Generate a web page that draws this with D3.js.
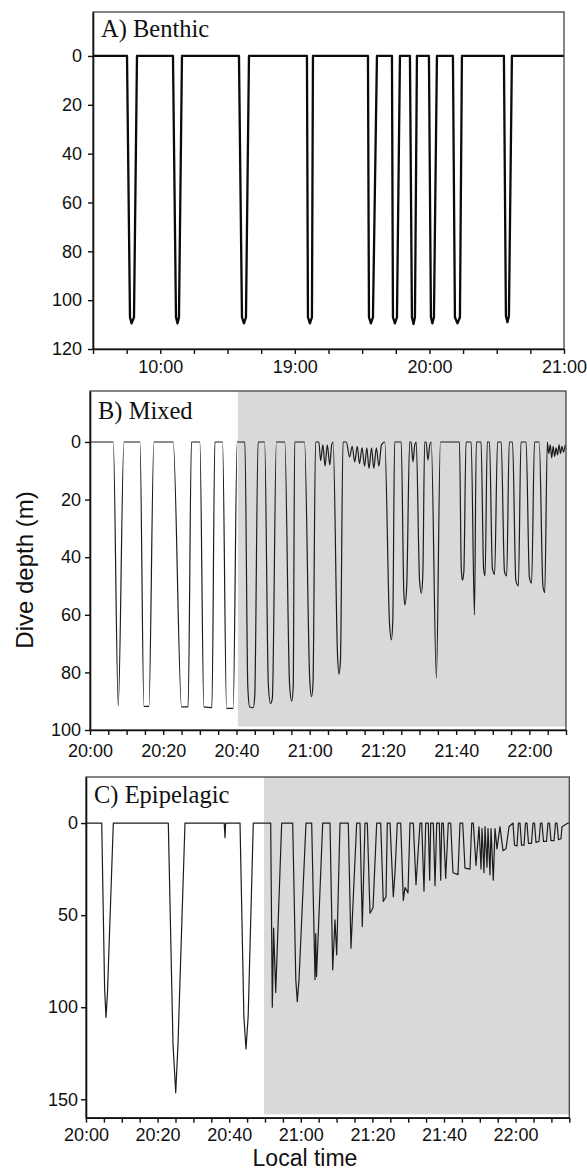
<!DOCTYPE html>
<html>
<head>
<meta charset="utf-8">
<script src="https://cdn.jsdelivr.net/npm/d3@7"></script>
<style>
  body { margin: 0; background: #fff; }
  .tick text { font-family: "Liberation Sans", Arial, sans-serif; font-size: 18px; fill: #111; }
</style>
</head>
<body>
<div id="chart"></div>
<script>
// dive profiles, [minutes from start of axis, depth (m)]
const profileA = [
  [0, 0], [15.16, 0], [16.49, 107], [17.2, 109.5], [18.28, 107], [19.61, 0],
  [35.66, 0], [37.0, 107], [37.7, 109.5], [38.33, 107], [39.67, 0],
  [65.08, 0], [66.42, 107], [67.3, 109.5], [68.2, 107], [69.54, 0],
  [95.39, 0], [95.84, 107], [96.7, 109.5], [97.62, 107], [98.07, 0],
  [122.59, 0], [123.04, 107], [123.9, 109.5], [124.82, 107], [126.6, 0],
  [133.29, 0], [133.74, 107], [134.6, 109.5], [135.52, 107], [136.86, 0],
  [141.31, 0], [142.2, 107], [142.9, 109.8], [143.54, 107], [144.43, 0],
  [149.78, 0], [150.67, 107], [151.3, 109.5], [152.01, 107], [153.35, 0],
  [160.48, 0], [161.37, 107], [162.5, 109.5], [163.6, 107], [164.49, 0],
  [183.21, 0], [184.1, 106.5], [184.8, 109], [185.44, 106.5], [186.78, 0],
  [210, 0]
];

const profileB = [
  [0, 0], [6.35, 0], [7.72, 91.6], [9.27, 0],
  [13.64, 0], [14.73, 91.8], [16.09, 91.8], [17.45, 0],
  [22.72, 0], [25.0, 92], [26.8, 92], [27.7, 0],
  [30.0, 0], [31.1, 92], [33.3, 92.2], [34.1, 0],
  [36.2, 0], [37.3, 92.5], [39.1, 92.5], [40.2, 0],
  [42.3, 0], [43.1, 85], [43.6, 92], [44.6, 92.2], [45.0, 88], [45.9, 0],
  [47.7, 0], [48.7, 84], [49.3, 90.8], [49.8, 89], [50.9, 0],
  [53.2, 0], [54.5, 84], [55.1, 90], [55.5, 85], [55.9, 0],
  [58.6, 0], [60.0, 82], [60.5, 88.4], [60.9, 84], [61.6, 0],
  [62.5, 0], [63.0, 6.5], [63.6, 1], [64.2, 8.4], [64.8, 1], [65.5, 8], [66.0, 1], [66.4, 0],
  [67.6, 74], [68.0, 80.6], [68.4, 76], [69.1, 0],
  [70.0, 0], [70.9, 5.2], [71.6, 1.5], [72.3, 6.9], [73.0, 1.5], [73.6, 7.5], [74.3, 2],
  [75.0, 8.4], [75.6, 2], [76.2, 9.2], [76.9, 2], [77.5, 9.2], [78.2, 2], [78.9, 8.4], [79.6, 1], [80.5, 0],
  [81.8, 63], [82.3, 68.7], [82.7, 62], [83.2, 0],
  [85.0, 0], [85.7, 52], [86.0, 56.6], [86.5, 50], [87.3, 0],
  [87.7, 0], [88.2, 6.9], [88.7, 1], [89.1, 0],
  [90.0, 48], [90.5, 52.5], [90.9, 46], [91.4, 0],
  [91.8, 0], [92.3, 6.3], [92.8, 1], [93.2, 0],
  [94.6, 82], [95.7, 0],
  [100.9, 0], [101.4, 44], [101.7, 48], [102.1, 45], [102.7, 0],
  [104.1, 0], [105.0, 60], [105.5, 0],
  [106.8, 0], [107.5, 44], [107.9, 46.5], [108.5, 0],
  [109.1, 0], [109.9, 44], [110.5, 46], [111.3, 0],
  [112.3, 0], [113.2, 45], [113.8, 46.5], [114.5, 0],
  [115.4, 0], [116.3, 48], [117.0, 50], [117.7, 0],
  [119.1, 0], [120.0, 47], [120.6, 49], [121.4, 0],
  [122.7, 0], [123.7, 50], [124.2, 52.3], [124.9, 0],
  [125.3, 4], [125.7, 1], [126.1, 5.5], [126.5, 1.5], [126.9, 5], [127.3, 2],
  [127.7, 4.5], [128.1, 1], [128.5, 4], [128.9, 1.5], [129.3, 3.5], [129.8, 1]
];

const profileC = [
  [0, 0], [4.39, 0], [5.2, 90], [5.59, 105.6], [6.0, 92], [7.63, 0],
  [22.99, 0], [24.3, 120], [25.06, 146.4], [25.7, 120], [27.65, 0],
  [38.6, 0], [38.83, 8], [39.0, 0],
  [43.02, 0], [44.1, 105], [44.69, 122.7], [45.3, 105], [46.73, 0],
  [51.59, 0], [52.04, 100], [52.4, 57], [52.99, 92], [54.66, 0],
  [57.74, 0], [58.6, 85], [59.02, 97], [59.5, 85], [61.45, 0],
  [63.04, 0], [63.97, 85], [64.16, 60], [64.39, 83.3], [66.12, 0],
  [68.16, 0], [68.91, 79.7], [69.55, 52.5], [70.03, 71.6], [70.95, 0],
  [73.27, 0], [74.02, 68], [75.61, 0],
  [76.54, 0], [77.18, 56.2], [77.93, 0],
  [78.58, 0], [79.33, 49], [80.17, 46], [81.2, 0],
  [82.32, 0], [83.04, 42.6], [83.8, 40], [84.16, 0],
  [84.92, 0], [85.84, 40], [86.31, 27], [86.96, 0],
  [87.91, 0], [88.63, 42], [89.11, 35], [89.94, 38], [90.5, 0],
  [91.42, 0], [92.18, 33.5], [93.3, 0],
  [93.77, 0], [94.41, 37], [94.89, 0],
  [95.61, 0], [96.0, 31], [96.28, 0],
  [97.01, 0], [97.49, 34], [97.96, 0],
  [98.69, 0], [99.08, 31], [99.36, 0],
  [99.8, 0], [100.47, 30], [101.2, 0],
  [101.87, 0], [102.51, 27], [103.91, 28], [104.47, 0],
  [105.22, 0], [105.87, 24.5], [107.26, 25], [107.74, 0],
  [108.18, 0], [108.94, 23], [109.78, 2],
  [110.34, 25], [110.61, 3], [111.17, 27], [111.45, 2], [112.01, 24], [112.29, 3],
  [112.85, 28], [113.13, 3], [113.77, 31], [114.25, 3],
  [114.8, 14], [115.64, 2], [116.48, 15], [117.32, 14], [118.16, 2],
  [119.27, 0], [119.69, 12], [120.39, 12.5], [120.81, 0],
  [121.23, 0], [121.65, 12], [122.35, 12], [122.77, 0],
  [123.18, 0], [123.6, 11], [124.44, 11], [124.86, 0],
  [125.28, 0], [125.7, 10.5], [126.54, 10], [126.96, 0],
  [127.37, 0], [127.79, 10], [128.63, 10], [129.05, 0],
  [129.47, 0], [129.89, 9.5], [130.73, 9.5], [131.15, 0],
  [131.56, 0], [131.98, 9], [132.68, 8.5], [132.96, 2], [134.64, 0], [135, 0]
];

const titles = ["A) Benthic", "B) Mixed", "C) Epipelagic"];

// x ticks (minutes) and their labels; unlabeled ticks are minor
const xTicksA = [30, 90, 150, 210];
const xLabelsA = ["10:00", "19:00", "20:00", "21:00"];
const xTicksBC = [0, 20, 40, 60, 80, 100, 120];
const xLabelsBC = ["20:00", "20:20", "20:40", "21:00", "21:20", "21:40", "22:00"];

const yTicksA = [0, 20, 40, 60, 80, 100, 120];
const yTicksB = [0, 20, 40, 60, 80, 100];
const yTicksC = [0, 50, 100, 150];

// shaded (night) period, minutes
const shadeB = [40.4, 130];
const shadeC = [49.7, 135];

const svg = d3.select("#chart")
    .append("svg")
    .attr("width", 587)
    .attr("height", 1171);

const panels = [
  {title: titles[0], data: profileA, xDomain: [0, 210], yDomain: [-18, 120],
   xr: [93, 564], yr: [12, 349], step: 15, xTicks: xTicksA, xLabels: xLabelsA,
   yTicks: yTicksA, shade: null, lw: 2.3, titleY: 36.5, yPad: 6, xPad: 6,
   curve: d3.curveLinear},
  {title: titles[1], data: profileB, xDomain: [0, 130], yDomain: [-17.7, 100],
   xr: [90, 566], yr: [391, 730], step: 5, xTicks: xTicksBC, xLabels: xLabelsBC,
   yTicks: yTicksB, shade: shadeB, shadeDepth: 98.8, lw: 1.2, titleY: 419, yPad: 4, xPad: 9,
   curve: d3.curveMonotoneX},
  {title: titles[2], data: profileC, xDomain: [0, 135], yDomain: [-25, 160],
   xr: [86, 569.3], yr: [777, 1117.7], step: 5, xTicks: xTicksBC, xLabels: xLabelsBC,
   yTicks: yTicksC, shade: shadeC, shadeDepth: 158.2, lw: 1.2, titleY: 803, yPad: 3, xPad: 6,
   curve: d3.curveLinear}
];

panels.forEach((p, i) => {
  const x = d3.scaleLinear().domain(p.xDomain).range(p.xr);
  const y = d3.scaleLinear().domain(p.yDomain).range(p.yr);
  const g = svg.append("g");

  // night shading
  if (p.shade) {
    g.append("rect")
      .attr("x", x(p.shade[0]))
      .attr("y", y(p.yDomain[0]))
      .attr("width", x(p.shade[1]) - x(p.shade[0]))
      .attr("height", y(p.shadeDepth) - y(p.yDomain[0]))
      .attr("fill", "#d9d9d9");
  }

  g.append("clipPath").attr("id", "clip" + i)
    .append("rect")
      .attr("x", p.xr[0]).attr("y", p.yr[0])
      .attr("width", p.xr[1] - p.xr[0]).attr("height", p.yr[1] - p.yr[0]);

  g.append("path")
    .datum(p.data)
    .attr("clip-path", `url(#clip${i})`)
    .attr("fill", "none")
    .attr("stroke", i === 0 ? "#0a0a0a" : "#1c1c1c")
    .attr("stroke-width", p.lw)
    .attr("stroke-linejoin", "round")
    .attr("d", d3.line()
        .curve(p.curve)
        .x(d => x(d[0]))
        .y(d => y(d[1]))
    );

  // frame
  g.append("rect")
    .attr("x", p.xr[0]).attr("y", p.yr[0])
    .attr("width", p.xr[1] - p.xr[0]).attr("height", p.yr[1] - p.yr[0])
    .attr("fill", "none")
    .attr("stroke", "#444")
    .attr("stroke-width", 1.3);

  // axes
  const labelOf = {};
  p.xTicks.forEach((t, k) => labelOf[t] = p.xLabels[k]);
  const xAxis = g.append("g")
    .attr("transform", `translate(0, ${p.yr[1]})`)
    .call(d3.axisBottom(x)
      .tickValues(d3.range(p.xDomain[0], p.xDomain[1] + 0.01, p.step))
      .tickFormat(d => labelOf[d] || "")
      .tickSize(5).tickSizeOuter(0).tickPadding(p.xPad));

  const yAxis = g.append("g")
    .attr("transform", `translate(${p.xr[0]}, 0)`)
    .call(d3.axisLeft(y)
      .tickValues(p.yTicks)
      .tickSize(5).tickSizeOuter(0).tickPadding(p.yPad));

  [xAxis, yAxis].forEach(a => {
    a.select(".domain").attr("stroke", "#111").attr("stroke-width", 1.6);
    a.selectAll(".tick line").attr("stroke", "#111").attr("stroke-width", 1.4);
  });

  // panel title
  g.append("text")
    .attr("x", p.xr[0] + 8)
    .attr("y", p.titleY)
    .attr("font-family", "'Liberation Serif', 'Times New Roman', serif")
    .attr("font-size", 24.5)
    .attr("fill", "#111")
    .text(p.title);
});

// shared axis labels
svg.append("text")
  .attr("text-anchor", "middle")
  .attr("transform", "translate(33, 570) rotate(-90)")
  .attr("font-family", "'Liberation Sans', Arial, sans-serif")
  .attr("font-size", 24)
  .attr("fill", "#111")
  .text("Dive depth (m)");

svg.append("text")
  .attr("text-anchor", "middle")
  .attr("x", 305)
  .attr("y", 1166)
  .attr("font-family", "'Liberation Sans', Arial, sans-serif")
  .attr("font-size", 23)
  .attr("fill", "#111")
  .text("Local time");
</script>
</body>
</html>
